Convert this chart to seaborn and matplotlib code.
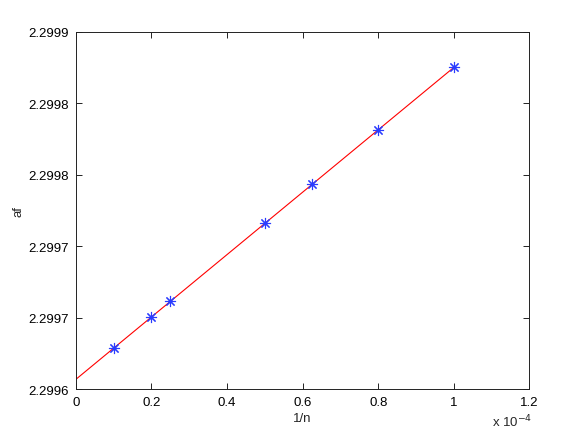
import numpy as np
import pandas as pd
import matplotlib
matplotlib.use("Agg")
import matplotlib.pyplot as plt
import seaborn as sns

# values
inv_n = [0.1e-4, 0.2e-4, 0.25e-4, 0.5e-4, 0.625e-4, 0.8e-4, 1.0e-4]
af = [2.2996285, 2.2996503, 2.2996615, 2.2997159, 2.2997434, 2.2997811, 2.2998250]

x_ticks = [0, 0.2e-4, 0.4e-4, 0.6e-4, 0.8e-4, 1.0e-4, 1.2e-4]
x_ticklabels = ["0", "0.2", "0.4", "0.6", "0.8", "1", "1.2"]
y_ticks = [2.29960, 2.29965, 2.29970, 2.29975, 2.29980, 2.29985]
y_ticklabels = ["2.2996", "2.2997", "2.2997", "2.2998", "2.2998", "2.2999"]

sns.set_style("ticks")
plt.rcParams["font.family"] = ["Liberation Sans", "DejaVu Sans"]

df = pd.DataFrame({"inv_n": inv_n, "af": af})
coef = np.polyfit(df["inv_n"], df["af"], 1)
fit = pd.DataFrame({"inv_n": [0, max(inv_n)]})
fit["af"] = np.polyval(coef, fit["inv_n"])

fig = plt.figure(figsize=(5.84, 4.39), dpi=100)
ax = fig.add_axes([0.13, 0.1116, 0.7764, 0.8139])

sns.lineplot(data=fit, x="inv_n", y="af", color="red", lw=0.8, ax=ax)
ax.plot(df["inv_n"], df["af"], ls="none", marker=(8, 2, 0), color="#2a3cff",
        markersize=8, markeredgewidth=0.8)

ax.set_xlim(0, 1.2e-4)
ax.set_ylim(2.29960, 2.29985)
ax.set_xticks(x_ticks)
ax.set_xticklabels(x_ticklabels)
ax.set_yticks(y_ticks)
ax.set_yticklabels(y_ticklabels)
ax.tick_params(direction="in", top=True, right=True, length=4, width=0.6,
               labelsize=9.5, pad=5, colors="black")
for s in ax.spines.values():
    s.set_linewidth(0.7)
    s.set_color("#222222")

ax.set_xlabel("1/n", fontsize=9.5, labelpad=3)
ax.set_ylabel("af", fontsize=9.5, labelpad=3)
fig.text(0.843, 0.027, r"x 10$^{-4}$", fontsize=9.5)

plt.savefig("out.png", dpi=100)
